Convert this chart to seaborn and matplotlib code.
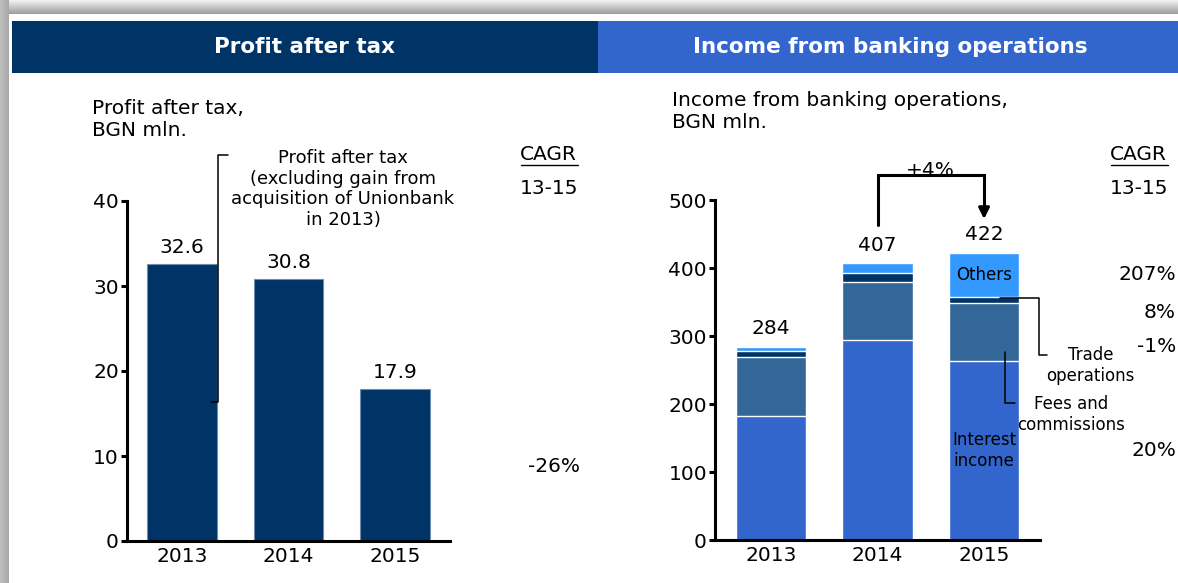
"""
Two-panel chart: profit after tax and income from banking operations.
Saves the figure as out.png.
"""

import numpy as np
import seaborn as sns
import matplotlib.pyplot as plt
from matplotlib.patches import Rectangle

# Chart data
years = ['2013', '2014', '2015']
profit = [32.6, 30.8, 17.9]
interest = [182, 294, 263]
fees = [87, 86, 85]
trade = [9, 12, 10]
others = [6, 15, 64]
totals = [284, 407, 422]
profit_cagr = '-26%'
# CAGR 13-15, listed top segment first
income_cagr = ['207%', '8%', '-1%', '20%']
growth_label = '+4%'

# Colours
NAVY = '#003366'
ROYAL = '#3366CC'
STEEL = '#336699'
SKY = '#3399FF'

W, H = 1178, 583
BAR_W = 0.657
FS = 14.5

sns.set_style('white')
plt.rcParams['font.family'] = ['DejaVu Sans']
plt.rcParams['text.color'] = 'black'
plt.rcParams['xtick.color'] = 'black'
plt.rcParams['ytick.color'] = 'black'


def px_rect(x0, y0, x1, y1):
    """Axes rectangle in figure fractions from pixel bounds."""
    return [x0 / W, 1 - y1 / H, (x1 - x0) / W, (y1 - y0) / H]


def style_axis(ax):
    """Black left/bottom axis with short outward ticks on y."""
    sns.despine(ax=ax)
    for side in ['left', 'bottom']:
        ax.spines[side].set_linewidth(2.2)
        ax.spines[side].set_color('black')
    ax.patch.set_alpha(0)
    ax.tick_params(axis='y', length=4.3, width=2.2, labelsize=FS, pad=1.5,
                   direction='out', left=True, colors='black')
    ax.tick_params(axis='x', length=0, labelsize=FS, pad=4, colors='black')
    ax.set_xlabel('')
    ax.set_ylabel('')


def cagr_head(x, axis):
    """Underlined 'CAGR' with '13-15' below it."""
    t = axis.text(x, 155, 'CAGR', fontsize=FS, va='center')
    axis.plot([x + 1, x + 58], [165, 165], color='black', lw=1)
    axis.text(x, 188, '13-15', fontsize=FS, va='center')
    return t


fig = plt.figure(figsize=(W / 100, H / 100), dpi=100)

# Background frame, header bands and free text in pixel coordinates
bg = fig.add_axes([0, 0, 1, 1], zorder=0)
grad = np.linspace(0.94, 0.62, 14).reshape(-1, 1)
bg.imshow(grad, extent=[0, W, 14, 0], cmap='gray', vmin=0, vmax=1,
          aspect='auto')
side = np.linspace(0.74, 0.66, 9).reshape(1, -1)
bg.imshow(side, extent=[0, 9, H, 0], cmap='gray', vmin=0, vmax=1,
          aspect='auto')
bg.set_xlim(0, W)
bg.set_ylim(H, 0)
bg.axis('off')
bg.add_patch(Rectangle((12, 21), 586, 52, color=NAVY, lw=0))
bg.add_patch(Rectangle((598, 21), W - 598, 52, color=ROYAL, lw=0))
bg.text(305, 47, 'Profit after tax', color='white', fontsize=15.5,
        fontweight='bold', ha='center', va='center')
bg.text(890, 47, 'Income from banking operations', color='white',
        fontsize=15.5, fontweight='bold', ha='center', va='center')

bg.text(92, 120, 'Profit after tax,\nBGN mln.', fontsize=FS, va='center')
bg.text(672, 112, 'Income from banking operations,\nBGN mln.', fontsize=FS,
        va='center')

bg.text(343, 189, 'Profit after tax\n(excluding gain from\n'
        'acquisition of Unionbank\nin 2013)', fontsize=13, ha='center',
        va='center', multialignment='center')

cagr_head(520, bg)
bg.text(580, 466, profit_cagr, fontsize=FS, ha='right', va='center')

cagr_head(1110, bg)
for yy, lab in zip([275, 312, 346, 450], income_cagr):
    bg.text(1176, yy, lab, fontsize=FS, ha='right', va='center')

# Left panel: profit after tax
ax1 = fig.add_axes(px_rect(127, 201, 450, 541), zorder=1)
sns.barplot(x=years, y=profit, color=NAVY, saturation=1, width=BAR_W,
            edgecolor='#6d8db0', linewidth=0.8, errorbar=None, ax=ax1)
ax1.set_ylim(0, 40)
ax1.set_xlim(-0.516, 2.516)
ax1.set_yticks([0, 10, 20, 30, 40])
style_axis(ax1)
for i, v in enumerate(profit):
    ax1.annotate(f'{v:.1f}', (i, v), xytext=(0, 12), textcoords='offset points',
                 ha='center', va='center', fontsize=FS)
# bracket next to the note
ax1.plot([0.432, 0.338, 0.338, 0.272], [45.4, 45.4, 16.4, 16.4],
         color='black', lw=1.1, clip_on=False)

# Right panel: income from banking operations, stacked
ax2 = fig.add_axes(px_rect(715, 200, 1040, 540), zorder=1)
layers = [
    (np.array(interest) + fees + trade + others, SKY),
    (np.array(interest) + fees + trade, NAVY),
    (np.array(interest) + fees, STEEL),
    (np.array(interest), ROYAL),
]
for cum, col in layers:
    sns.barplot(x=years, y=cum, color=col, saturation=1, width=BAR_W,
                edgecolor='white', linewidth=1, errorbar=None, ax=ax2)
ax2.set_ylim(0, 500)
ax2.set_xlim(-0.525, 2.525)
ax2.set_yticks([0, 100, 200, 300, 400, 500])
style_axis(ax2)
for i, v in enumerate(totals):
    ax2.annotate(f'{v}', (i, v), xytext=(0, 13), textcoords='offset points',
                 ha='center', va='center', fontsize=FS)

ax2.text(2, interest[2] + fees[2] + trade[2] + others[2] / 2, 'Others',
         fontsize=12, ha='center', va='center')
ax2.text(2, 132, 'Interest\nincome', fontsize=12, ha='center', va='center')

# callouts for trade and fees
ax2.plot([2.145, 2.52, 2.52, 2.595], [356, 356, 272, 272], color='black',
         lw=1.1, clip_on=False)
ax2.text(3.0, 257, 'Trade\noperations', fontsize=12, ha='center',
         va='center')
ax2.plot([2.2, 2.2, 2.295], [276, 201, 201], color='black', lw=1.1,
         clip_on=False)
ax2.text(2.82, 185, 'Fees and\ncommissions', fontsize=12, ha='center',
         va='center')

# growth arrow 2014 -> 2015
ax2.plot([1, 1, 2, 2], [463, 537, 537, 488], color='black', lw=2.2,
         clip_on=False, solid_joinstyle='miter')
ax2.annotate('', xy=(2, 472), xytext=(2, 490),
             arrowprops=dict(arrowstyle='-|>', lw=2.2, color='black',
                             mutation_scale=16, shrinkA=0, shrinkB=0),
             annotation_clip=False)
ax2.text(1.5, 544, growth_label, fontsize=FS, ha='center', va='center')

fig.savefig('out.png', dpi=100)
